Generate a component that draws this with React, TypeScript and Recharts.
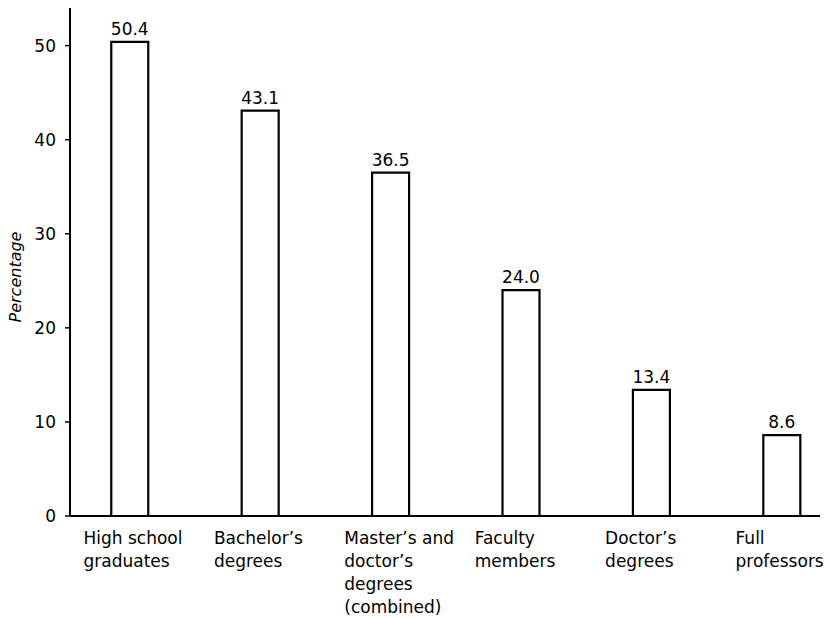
import { BarChart, Bar, XAxis, YAxis, LabelList } from 'recharts';

const categories: string[][] = [
  ['High school', 'graduates'],
  ['Bachelor’s', 'degrees'],
  ['Master’s and', 'doctor’s', 'degrees', '(combined)'],
  ['Faculty', 'members'],
  ['Doctor’s', 'degrees'],
  ['Full', 'professors'],
];

const percentages = [50.4, 43.1, 36.5, 24.0, 13.4, 8.6];

const yTicks = [0, 10, 20, 30, 40, 50];

const FONT = '"DejaVu Sans", sans-serif';

const data = percentages.map((value, i) => ({
  idx: i,
  value,
}));

function CategoryTick({ x, y, payload }: { x?: number; y?: number; payload?: { value: number } }) {
  const lines = categories[payload?.value ?? 0] ?? [];
  return (
    <text x={(x ?? 0) - 46} y={(y ?? 0) + 20} textAnchor="start" fontFamily={FONT} fontSize={17} fill="#000">
      {lines.map((line, i) => (
        <tspan key={i} x={(x ?? 0) - 46} dy={i === 0 ? 0 : 23}>
          {line}
        </tspan>
      ))}
    </text>
  );
}

export default function App() {
  return (
    <div style={{ width: 830, height: 618, background: '#fff' }}>
      <style>{'body { margin: 0; }'}</style>
      <BarChart width={830} height={618} data={data} margin={{ top: 8, right: 10, left: 0, bottom: 0 }}>
        <XAxis
          dataKey="idx"
          type="number"
          domain={[-0.456, 5.295]}
          ticks={[0, 1, 2, 3, 4, 5]}
          interval={0}
          tickLine={false}
          axisLine={{ stroke: '#000', strokeWidth: 2 }}
          tick={<CategoryTick />}
          height={102}
        />
        <YAxis
          width={70}
          domain={[0, 54]}
          ticks={yTicks}
          interval={0}
          axisLine={{ stroke: '#000', strokeWidth: 2 }}
          tickLine={{ stroke: '#000', strokeWidth: 1.5 }}
          tickSize={5}
          tickMargin={9}
          tick={{ fill: '#000', fontSize: 17, fontFamily: FONT }}
          label={{
            value: 'Percentage',
            angle: -90,
            position: 'insideLeft',
            dx: 10,
            dy: 15,
            style: { fill: '#000', fontSize: 16, fontFamily: FONT, fontStyle: 'italic', textAnchor: 'middle' },
          }}
        />
        <Bar dataKey="value" barSize={37} fill="#fff" stroke="#000" strokeWidth={2.2} isAnimationActive={false}>
          <LabelList
            dataKey="value"
            position="top"
            offset={7}
            formatter={(v: number) => v.toFixed(1)}
            style={{ fill: '#000', fontSize: 17, fontFamily: FONT }}
          />
        </Bar>
      </BarChart>
    </div>
  );
}
